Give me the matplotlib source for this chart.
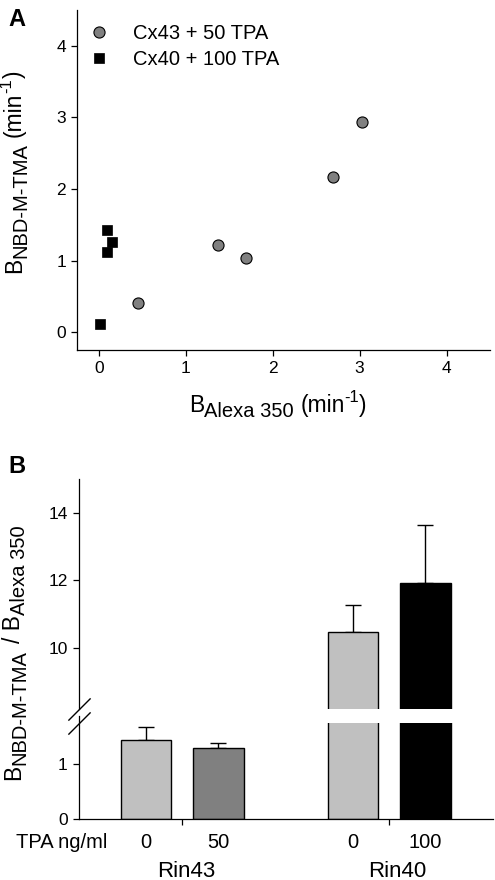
import matplotlib
matplotlib.use("Agg")
import matplotlib.pyplot as plt
from matplotlib.transforms import IdentityTransform
import numpy as np

plt.rcParams['font.family'] = ['Liberation Sans', 'DejaVu Sans']

# panel A: scatter data
cx43_x = [0.45, 1.37, 1.69, 2.70, 3.03]
cx43_y = [0.40, 1.21, 1.03, 2.16, 2.94]
cx40_x = [0.01, 0.09, 0.09, 0.15]
cx40_y = [0.11, 1.12, 1.43, 1.26]

# panel B: bar data
groups = ["Rin43", "Rin40"]
tpa_labels = ["0", "50", "0", "100"]
ratio_mean = [1.42, 1.28, 10.49, 11.93]
ratio_err = [0.24, 0.09, 0.79, 1.70]
bar_colors = ["#c0c0c0", "#808080", "#c0c0c0", "#000000"]

W, H = 495, 880
fig = plt.figure(figsize=(W / 100, H / 100), dpi=100)
renderer = fig.canvas.get_renderer()


def box(l, t, r, b):
    return [l / W, 1 - b / H, (r - l) / W, (b - t) / H]


def style(ax):
    for s in ['top', 'right']:
        ax.spines[s].set_visible(False)
    for s in ['left', 'bottom']:
        ax.spines[s].set_linewidth(0.9)
    ax.tick_params(direction='out', length=4.5, width=0.9, labelsize=12.5)


def rich(parts, x, y, rotation=0):
    # parts: (text, fontsize, baseline shift in px, gap before in px)
    # x, y: pixel position of centre (along text) / main baseline, from top-left
    y = H - y
    objs, total = [], 0
    for s, size, shift, gap in parts:
        total += gap
        t = fig.text(0, 0, s, fontsize=size, rotation=rotation,
                     rotation_mode='anchor', ha='left', va='baseline',
                     transform=IdentityTransform())
        ext = t.get_window_extent(renderer)
        objs.append((t, total, shift))
        total += ext.height if rotation else ext.width
    for t, off, shift in objs:
        if rotation:
            t.set_position((x - shift, y - total / 2 + off))
        else:
            t.set_position((x - total / 2 + off, y + shift))


MAIN, SUB, SUP = 16.5, 14.5, 12
lab_nbd = [("B", MAIN, 0, 0), ("NBD-M-TMA", SUB, -5, 0)]
lab_alexa = [("B", MAIN, 0, 0), ("Alexa 350", SUB, -5, 0)]
lab_min = [("(min", MAIN, 0, 6), ("-1", SUP, 10, 0), (")", MAIN, 0, 0)]

# ---------- A ----------
axA = fig.add_axes(box(77, 10, 490, 350))
style(axA)
axA.plot(cx43_x, cx43_y, 'o', ms=8, mfc='#808080', mec='black', mew=0.8,
         label='Cx43 + 50 TPA', clip_on=False)
axA.plot(cx40_x, cx40_y, 's', ms=7.5, mfc='black', mec='black', mew=0.5,
         label='Cx40 + 100 TPA', clip_on=False)
axA.set_xlim(-0.25, 4.5)
axA.set_ylim(-0.25, 4.5)
axA.set_xticks(range(5))
axA.set_yticks(range(5))
axA.legend(loc='upper left', bbox_to_anchor=(0.005, 0.958), frameon=False,
           borderpad=0, borderaxespad=0, fontsize=14.5, handletextpad=0.7,
           handlelength=2.0, labelspacing=0.35, numpoints=1)
rich(lab_alexa + lab_min, 278, 412)
rich(lab_nbd + lab_min, 21, 172, rotation=90)
fig.text(8 / W, 1 - 8 / H, 'A', fontsize=17, fontweight='bold', va='top', ha='left')

# ---------- B (broken axis) ----------
axU = fig.add_axes(box(78.7, 479, 492.7, 709))
axL = fig.add_axes(box(78.7, 723, 492.7, 819))
for ax in (axU, axL):
    style(ax)
axU.spines['bottom'].set_visible(False)
axU.tick_params(axis='x', bottom=False, labelbottom=False)

pos = np.array([-0.175, 0.175, 0.825, 1.175])
for ax in (axU, axL):
    ax.bar(pos, ratio_mean, width=0.245, color=bar_colors, edgecolor='black',
           linewidth=1.0, zorder=2)
    ax.errorbar(pos, ratio_mean, yerr=[np.zeros(4), ratio_err], fmt='none',
                ecolor='black', elinewidth=1.0, capsize=5.5, capthick=1.0, zorder=1)
    ax.set_xlim(-0.5, 1.5)

axU.set_ylim(8.2, 15)
axU.set_yticks([10, 12, 14])
axL.set_ylim(0, 1.73)
axL.set_yticks([0, 1])
axL.set_xticks([0, 1])
axL.set_xticklabels([])
axL.spines['left'].set_bounds(0, 1.86)

brk = dict(marker=[(-1, -1), (1, 1)], markersize=16, linestyle='none',
           color='k', mec='k', mew=1, clip_on=False)
axU.plot([0], [0], transform=axU.transAxes, **brk)
axL.plot([0], [1], transform=axL.transAxes, **brk)

for x, lab in zip(pos, tpa_labels):
    axL.annotate(lab, xy=(x, 0), xycoords=('data', 'axes fraction'),
                 xytext=(0, -21), textcoords='offset points',
                 ha='center', va='baseline', fontsize=14.5)
axL.annotate('TPA ng/ml', xy=(0, 0), xycoords='axes fraction',
             xytext=(20.4, -21), textcoords='offset points',
             ha='right', va='baseline', fontsize=14.5)
for gx, g in zip([0.02, 1.04], groups):
    axL.annotate(g, xy=(gx, 0), xycoords=('data', 'axes fraction'),
                 xytext=(0, -41.5), textcoords='offset points',
                 ha='center', va='baseline', fontsize=16)

lab_ratio = lab_nbd + [("/ B", MAIN, 0, 7), ("Alexa 350", SUB, -5, 0)]
rich(lab_ratio, 20, 653, rotation=90)
fig.text(8 / W, 1 - 455 / H, 'B', fontsize=17, fontweight='bold', va='top', ha='left')

fig.savefig('out.png', dpi=100)
